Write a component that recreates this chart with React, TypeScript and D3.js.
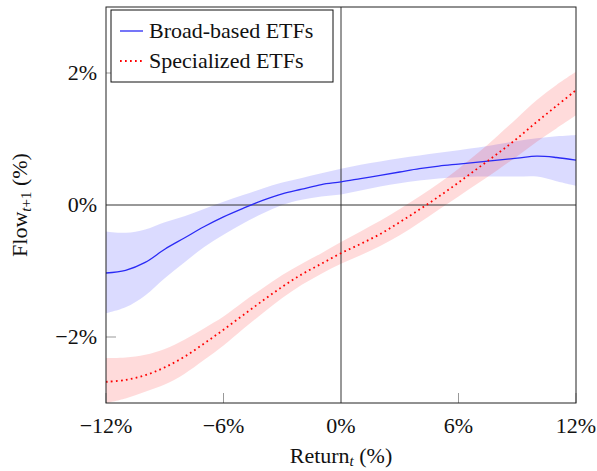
import React, { useEffect, useRef } from "react";
import * as d3 from "d3";

// return in month t (%)
const returns = [-12, -11, -10, -9, -8, -7, -6, -5, -4, -3, -2, -1, 0, 1, 2, 3, 4, 5, 6, 7, 8, 9, 10, 11, 12];

// broad-based ETFs: fitted flow and confidence band
const broadMean = [-1.03, -0.99, -0.87, -0.67, -0.5, -0.33, -0.18, -0.05, 0.07, 0.17, 0.24, 0.31, 0.35, 0.4, 0.45, 0.5, 0.55, 0.59, 0.62, 0.65, 0.68, 0.71, 0.74, 0.72, 0.68];
const broadLow = [-1.64, -1.55, -1.37, -1.11, -0.87, -0.64, -0.45, -0.28, -0.13, 0.0, 0.08, 0.13, 0.16, 0.22, 0.28, 0.33, 0.37, 0.4, 0.42, 0.43, 0.43, 0.43, 0.43, 0.36, 0.29];
const broadHigh = [-0.4, -0.42, -0.37, -0.26, -0.17, -0.06, 0.05, 0.15, 0.25, 0.34, 0.41, 0.48, 0.55, 0.61, 0.66, 0.71, 0.75, 0.79, 0.83, 0.87, 0.92, 0.97, 1.01, 1.04, 1.06];

// specialized ETFs
const specMean = [-2.68, -2.65, -2.58, -2.46, -2.3, -2.1, -1.89, -1.67, -1.45, -1.24, -1.05, -0.89, -0.73, -0.59, -0.44, -0.26, -0.07, 0.13, 0.34, 0.56, 0.78, 1.01, 1.26, 1.5, 1.74];
const specLow = [-3.0, -2.93, -2.83, -2.72, -2.56, -2.35, -2.13, -1.88, -1.64, -1.41, -1.21, -1.04, -0.89, -0.76, -0.62, -0.46, -0.27, -0.07, 0.13, 0.33, 0.53, 0.74, 0.96, 1.16, 1.36];
const specHigh = [-2.32, -2.31, -2.27, -2.18, -2.04, -1.87, -1.69, -1.47, -1.26, -1.06, -0.89, -0.73, -0.56, -0.4, -0.24, -0.06, 0.13, 0.33, 0.55, 0.79, 1.05, 1.32, 1.59, 1.82, 2.02];

const xTicks = [-12, -6, 0, 6, 12];
const yTicks = [-2, 0, 2];
const seriesNames = ["Broad-based ETFs", "Specialized ETFs"];

const W = 597;
const H = 471;
const FONT = "'Liberation Serif', 'Times New Roman', serif";

const pct = (d: number) => `${d < 0 ? "\u2212" : ""}${Math.abs(d)}%`;

export default function App() {
  const ref = useRef<SVGSVGElement>(null);

  useEffect(() => {
    const svg = d3.select(ref.current);
    svg.selectAll("*").remove();

    const left = 106, right = 576, top = 7, bottom = 403;
    const x = d3.scaleLinear().domain([-12, 12]).range([left, right]);
    const y = d3.scaleLinear().domain([-3, 3]).range([bottom, top]);
    const curve = d3.curveCatmullRom.alpha(0.5);

    svg.append("defs").append("clipPath").attr("id", "plotclip")
      .append("rect").attr("x", left).attr("y", top)
      .attr("width", right - left).attr("height", bottom - top);

    const plot = svg.append("g").attr("clip-path", "url(#plotclip)");

    const series = [
      { mean: broadMean, low: broadLow, high: broadHigh, color: "#2a2af5", fill: "rgba(0,0,255,0.14)", dash: null },
      { mean: specMean, low: specLow, high: specHigh, color: "red", fill: "rgba(255,0,0,0.14)", dash: "1.7 3.3" },
    ];

    // bands first
    series.forEach((s) => {
      const area = d3.area<number>()
        .x((d) => x(d))
        .y0((_, i) => y(s.low[i]))
        .y1((_, i) => y(s.high[i]))
        .curve(curve);
      plot.append("path").attr("d", area(returns)).attr("fill", s.fill);
    });

    // zero lines
    plot.append("line").attr("x1", left).attr("x2", right)
      .attr("y1", y(0)).attr("y2", y(0)).attr("stroke", "#333").attr("stroke-width", 1);
    plot.append("line").attr("x1", x(0)).attr("x2", x(0))
      .attr("y1", top).attr("y2", bottom).attr("stroke", "#333").attr("stroke-width", 1);

    series.forEach((s) => {
      const line = d3.line<number>()
        .x((d) => x(d))
        .y((_, i) => y(s.mean[i]))
        .curve(curve);
      const p = plot.append("path").attr("d", line(returns))
        .attr("fill", "none").attr("stroke", s.color);
      if (s.dash) p.attr("stroke-width", 1.8).attr("stroke-dasharray", s.dash);
      else p.attr("stroke-width", 1.3);
    });

    // ticks (inside, left and bottom only)
    const tickG = svg.append("g").attr("stroke", "#999").attr("stroke-width", 1);
    xTicks.forEach((t) => {
      tickG.append("line").attr("x1", x(t)).attr("x2", x(t))
        .attr("y1", bottom).attr("y2", bottom - 10);
    });
    yTicks.forEach((t) => {
      tickG.append("line").attr("x1", left).attr("x2", left + 10)
        .attr("y1", y(t)).attr("y2", y(t));
    });

    // frame
    svg.append("rect").attr("x", left).attr("y", top)
      .attr("width", right - left).attr("height", bottom - top)
      .attr("fill", "none").attr("stroke", "#222").attr("stroke-width", 1);

    const txt = svg.append("g").attr("font-family", FONT).attr("font-size", 22).attr("fill", "#111");
    xTicks.forEach((t) => {
      txt.append("text").attr("x", x(t)).attr("y", 433)
        .attr("text-anchor", "middle").text(pct(t));
    });
    yTicks.forEach((t) => {
      txt.append("text").attr("x", 97).attr("y", y(t) + 7)
        .attr("text-anchor", "end").text(pct(t));
    });

    // x label
    const xl = txt.append("text").attr("x", 341).attr("y", 463).attr("text-anchor", "middle");
    xl.append("tspan").text("Return");
    xl.append("tspan").attr("font-size", 15).attr("font-style", "italic").attr("dy", 3).text("t");
    xl.append("tspan").attr("dy", -3).text(" (%)");

    // y label
    const yl = txt.append("text").attr("transform", `translate(27,${y(0)}) rotate(-90)`)
      .attr("text-anchor", "middle");
    yl.append("tspan").text("Flow");
    yl.append("tspan").attr("font-size", 15).attr("dy", 4)
      .html("<tspan font-style='italic'>t</tspan>+1");
    yl.append("tspan").attr("dy", -4).text(" (%)");

    // legend
    const lg = svg.append("g");
    lg.append("rect").attr("x", 111).attr("y", 10).attr("width", 222).attr("height", 72)
      .attr("fill", "white").attr("stroke", "#111").attr("stroke-width", 1);
    series.forEach((s, i) => {
      const cy = 31 + i * 30;
      const l = lg.append("line").attr("x1", 120).attr("x2", 143).attr("y1", cy).attr("y2", cy)
        .attr("stroke", s.color);
      if (s.dash) l.attr("stroke-width", 1.8).attr("stroke-dasharray", s.dash);
      else l.attr("stroke-width", 1.3);
      lg.append("text").attr("x", 149).attr("y", cy + 7)
        .attr("font-family", FONT).attr("font-size", 22).attr("fill", "#111")
        .text(seriesNames[i]);
    });
  }, []);

  return (
    <svg
      ref={ref}
      width={W}
      height={H}
      style={{ position: "absolute", left: 0, top: 0, background: "white" }}
    />
  );
}
